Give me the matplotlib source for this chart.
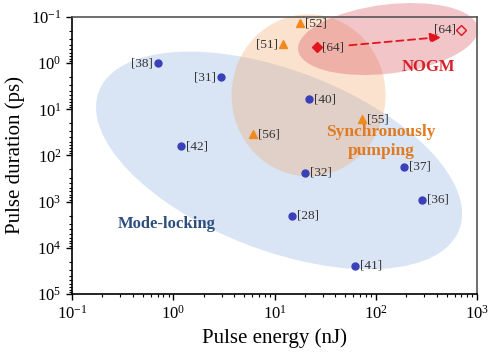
"""Pulse energy vs pulse duration for reported fiber sources"""

import matplotlib
matplotlib.use("Agg")
import matplotlib.pyplot as plt
from matplotlib.patches import Ellipse
from matplotlib.transforms import ScaledTranslation

plt.rcParams['font.family'] = 'serif'
plt.rcParams['font.serif'] = ['Liberation Serif', 'DejaVu Serif']
plt.rcParams['mathtext.fontset'] = 'custom'
plt.rcParams['mathtext.rm'] = 'Liberation Serif'
plt.rcParams['mathtext.it'] = 'Liberation Serif:italic'

# mode-locking (blue circles)
ml_labels = ['[38]', '[31]', '[42]', '[40]', '[32]', '[37]', '[36]', '[28]', '[41]']
ml_energy = [0.71, 2.97, 1.19, 21.9, 20, 190, 286, 14.8, 63]
ml_duration = [1.0, 2.0, 63, 6.0, 234, 174, 910, 2000, 24600]
ml_side = ['l', 'l', 'r', 'r', 'r', 'r', 'r', 'r', 'r']

# synchronously pumping (orange triangles)
sp_labels = ['[52]', '[51]', '[55]', '[56]']
sp_energy = [17.9, 12.1, 73, 6.1]
sp_duration = [0.135, 0.39, 16.5, 35]
sp_side = ['r', 'l', 'r', 'r']

# NOGM (red diamonds): before and after
nogm_energy = [26.3, 693]
nogm_duration = [0.45, 0.19]

# shaded regions: centre (nJ, ps), size in inches, angle in degrees
regions = {
    'blue':   ((11.1, 128), 3.86, 1.80, -21),
    'orange': ((21.7, 4.96), 1.54, 1.62, 0),
    'red':    ((132, 0.30), 1.81, 0.69, 7),
}
region_colors = {'blue': (130/255, 170/255, 220/255),
                 'orange': (242/255, 162/255, 95/255),
                 'red': (212/255, 65/255, 78/255)}

blue_c = '#3a40b8'
orange_c = '#f08a1e'
red_c = '#e3141e'

fig = plt.figure(figsize=(5, 3.54), dpi=100)
ax = fig.add_axes([0.144, 0.1695, 0.81, 0.7825])
ax.set_xscale('log')
ax.set_yscale('log')
ax.set_xlim(0.1, 1000)
ax.set_ylim(1e5, 0.1)

# ellipses drawn in inches around a data point
for name in ['blue', 'orange', 'red']:
    (cx, cy), w, h, ang = regions[name]
    tr = fig.dpi_scale_trans + ScaledTranslation(cx, cy, ax.transData)
    e = Ellipse((0, 0), w, h, angle=ang, transform=tr,
                facecolor=region_colors[name], alpha=0.3,
                edgecolor='none', clip_on=False, zorder=1)
    ax.add_patch(e)


def put_labels(xs, ys, labels, sides):
    for x, y, lab, s in zip(xs, ys, labels, sides):
        if s == 'r':
            ax.annotate(lab, (x, y), xytext=(3.5, 0), textcoords='offset points',
                        ha='left', va='center', fontsize=9.5, color='#333333')
        else:
            ax.annotate(lab, (x, y), xytext=(-3.5, 0), textcoords='offset points',
                        ha='right', va='center', fontsize=9.5, color='#333333')


ax.plot(ml_energy, ml_duration, 'o', color=blue_c, ms=5, zorder=3)
put_labels(ml_energy, ml_duration, ml_labels, ml_side)

ax.plot(sp_energy, sp_duration, '^', color=orange_c, ms=6, zorder=3)
put_labels(sp_energy, sp_duration, sp_labels, sp_side)

ax.plot(nogm_energy[0], nogm_duration[0], 'D', color=red_c, ms=5, zorder=3)
ax.plot(nogm_energy[1], nogm_duration[1], 'D', mfc='none', mec=red_c,
        mew=1, ms=5, zorder=3)
put_labels(nogm_energy, nogm_duration, ['[64]', '[64]'], ['r', 'l'])

# dashed arrow between the two NOGM points
arr_start = (55, 0.41)
arr_end = (451, 0.27)
ax.annotate('', xy=arr_end, xytext=arr_start,
            arrowprops=dict(arrowstyle='-|>,head_length=0.7,head_width=0.3',
                            color=red_c, lw=1.3, linestyle=(0, (4, 2.5)),
                            shrinkA=0, shrinkB=0), zorder=3)

# region names
ax.text(328, 1.22, 'NOGM', color='#d6212a', fontsize=12, fontweight='bold',
        ha='center', va='center')
ax.text(113, 50, 'Synchronously\npumping', color='#e07b22', fontsize=12.5,
        fontweight='bold', ha='center', va='center', linespacing=1.2)
ax.text(0.87, 3000, 'Mode-locking', color='#2e4f7e', fontsize=12,
        fontweight='bold', ha='center', va='center')

ax.set_xlabel('Pulse energy (nJ)', fontsize=15, labelpad=4)
ax.set_ylabel('Pulse duration (ps)', fontsize=15, labelpad=4)

ax.tick_params(which='both', top=False, right=False, labelsize=12,
               direction='out')
ax.tick_params(which='major', length=4, width=1)
ax.tick_params(which='minor', length=2.5, width=0.8)
ax.set_xticks([0.1, 1, 10, 100, 1000])
ax.set_yticks([0.1, 1, 10, 100, 1000, 1e4, 1e5])

for s in ['left', 'bottom']:
    ax.spines[s].set_color('black')
    ax.spines[s].set_linewidth(1.2)
for s in ['top', 'right']:
    ax.spines[s].set_color('#555555')
    ax.spines[s].set_linewidth(1.2)

fig.savefig('out.png', dpi=100)
